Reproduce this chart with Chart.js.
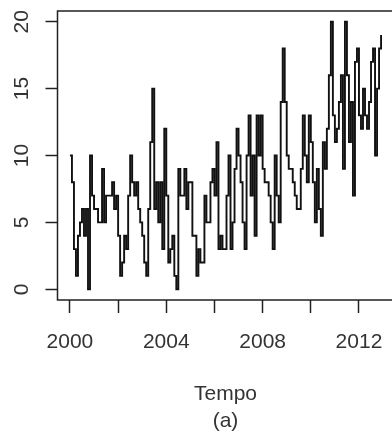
<!DOCTYPE html>
<html>
<head>
<meta charset="utf-8">
<script src="https://cdn.jsdelivr.net/npm/chart.js@4/dist/chart.umd.min.js"></script>
<style>
  html, body { margin: 0; padding: 0; overflow: hidden; background: #fff; }
  #wrap { width: 400px; height: 435px; }
</style>
</head>
<body>
<div id="wrap"><canvas id="c" width="400" height="435"></canvas></div>
<script>
// Monthly counts, January 2000 to December 2012
const startYear = 2000;
const counts2000 = [10, 8, 3, 1, 4, 5, 6, 4, 6, 0, 10, 7];
const counts2001 = [6, 6, 5, 5, 9, 5, 7, 7, 7, 8, 6, 7];
const counts2002 = [4, 1, 2, 4, 3, 7, 10, 8, 7, 8, 6, 5];
const counts2003 = [4, 2, 1, 6, 11, 15, 6, 8, 5, 8, 3, 12];
const counts2004 = [7, 2, 3, 4, 1, 0, 9, 7, 7, 9, 6, 8];
const counts2005 = [8, 4, 4, 1, 3, 2, 2, 7, 5, 5, 8, 9];
const counts2006 = [7, 11, 3, 4, 3, 3, 7, 10, 3, 5, 9, 12];
const counts2007 = [10, 8, 5, 3, 10, 13, 7, 10, 4, 13, 10, 13];
const counts2008 = [9, 8, 8, 7, 5, 3, 10, 7, 5, 14, 18, 14];
const counts2009 = [10, 9, 9, 8, 7, 6, 6, 9, 13, 10, 8, 13];
const counts2010 = [11, 8, 5, 9, 6, 4, 11, 9, 12, 16, 20, 13];
const counts2011 = [11, 12, 14, 16, 9, 20, 16, 11, 14, 7, 17, 18];
const counts2012 = [13, 12, 15, 13, 12, 14, 17, 18, 10, 15, 18, 19];

const yearlyCounts = [counts2000, counts2001, counts2002, counts2003, counts2004,
  counts2005, counts2006, counts2007, counts2008, counts2009, counts2010,
  counts2011, counts2012];

const xTicks = [2000, 2002, 2004, 2006, 2008, 2010, 2012];
const xLabelled = [2000, 2004, 2008, 2012];
const yTicks = [0, 5, 10, 15, 20];
const xTitle = ['Tempo', '(a)'];

// time points: year + month/12
const points = [];
yearlyCounts.forEach((row, yi) => {
  row.forEach((v, mi) => points.push({ x: startYear + yi + mi / 12, y: v }));
});

const tMin = points[0].x, tMax = points[points.length - 1].x;
const tPad = (tMax - tMin) * 0.04;

const ink = '#222';
const textInk = '#333';
const fontFamily = '"Liberation Sans", Arial, sans-serif';

const boxPlugin = {
  id: 'frameBox',
  afterDraw(chart) {
    const { ctx, chartArea: a } = chart;
    ctx.save();
    ctx.strokeStyle = ink;
    ctx.lineWidth = 1.5;
    ctx.strokeRect(a.left, a.top, a.right - a.left, a.bottom - a.top);
    ctx.restore();
  }
};

new Chart(document.getElementById('c'), {
  type: 'line',
  data: {
    datasets: [{
      data: points,
      borderColor: '#111',
      borderWidth: 1.9,
      pointRadius: 0,
      stepped: 'before',
      tension: 0,
      fill: false
    }]
  },
  options: {
    responsive: false,
    animation: false,
    devicePixelRatio: 1,
    layout: { padding: { top: 11, right: 6.5, left: 0, bottom: 0 } },
    plugins: { legend: { display: false }, tooltip: { enabled: false } },
    scales: {
      x: {
        type: 'linear',
        min: tMin - tPad,
        max: tMax + tPad,
        afterBuildTicks: s => { s.ticks = xTicks.map(v => ({ value: v })); },
        afterFit: s => { s.height = 135; s.paddingLeft = 0; s.paddingRight = 0; },
        border: { display: false },
        grid: {
          drawOnChartArea: false,
          drawTicks: true,
          tickLength: 13,
          tickColor: ink,
          tickWidth: 1.5
        },
        ticks: {
          autoSkip: false,
          maxRotation: 0,
          padding: 17,
          color: textInk,
          font: { family: fontFamily, size: 21 },
          callback: v => (xLabelled.includes(v) ? String(v) : '')
        },
        title: {
          display: true,
          text: xTitle,
          color: textInk,
          font: { family: fontFamily, size: 21, lineHeight: 1.28 },
          padding: { top: 0, bottom: 0 }
        }
      },
      y: {
        type: 'linear',
        min: -0.8,
        max: 20.8,
        afterBuildTicks: s => { s.ticks = yTicks.map(v => ({ value: v })); },
        afterFit: s => { s.width = 57.5; s.paddingTop = 0; s.paddingBottom = 0; },
        border: { display: false },
        grid: {
          drawOnChartArea: false,
          drawTicks: true,
          tickLength: 12,
          tickColor: ink,
          tickWidth: 1.5
        },
        ticks: {
          minRotation: 90,
          maxRotation: 90,
          crossAlign: 'center',
          padding: 12,
          color: textInk,
          font: { family: fontFamily, size: 21 }
        }
      }
    }
  },
  plugins: [boxPlugin]
});
</script>
</body>
</html>
